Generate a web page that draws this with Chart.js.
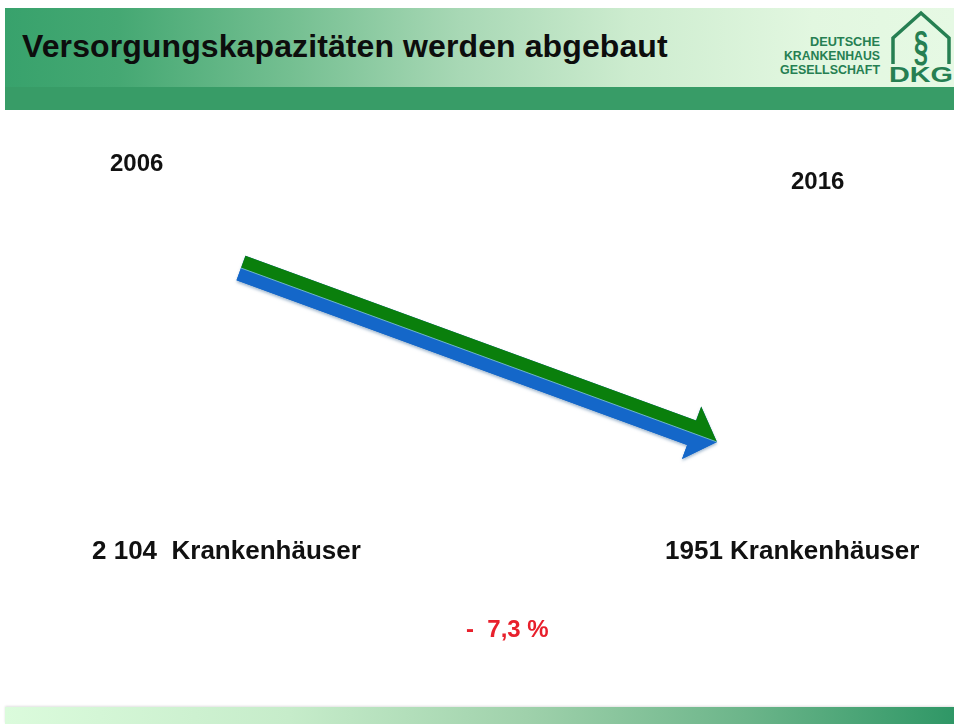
<!DOCTYPE html>
<html>
<head>
<meta charset="utf-8">
<script src="https://cdn.jsdelivr.net/npm/chart.js@4"></script>
<style>
  html,body{margin:0;padding:0;background:#fff;}
  body{width:954px;height:724px;overflow:hidden;position:relative;font-family:"Liberation Sans",Arial,sans-serif;}
  #hdr{position:absolute;left:5px;top:8px;width:949px;height:80px;
       background:linear-gradient(to right,#38a26c 0%,#45a873 12%,#74bf91 30%,#a8d8b5 48%,#cdeccf 66%,#e2f7e0 85%,#e6f9e4 100%);}
  #strip{position:absolute;left:5px;top:87px;width:949px;height:23px;background:#389c67;}
  #title{position:absolute;left:22px;top:30px;font:bold 32px "Liberation Sans",Arial,sans-serif;line-height:32px;color:#0d0d0d;white-space:nowrap;letter-spacing:0.1px;}
  #foot{position:absolute;left:5px;top:707px;width:949px;height:17px;
        background:linear-gradient(to right,#dbfbdc 0%,#c6ecca 30%,#9fd1ab 55%,#6cb58a 78%,#2f9766 100%);
        box-shadow:0 -1px 2px rgba(0,0,0,0.12);}
  #logo{position:absolute;left:0;top:0;}
  #c{position:absolute;left:0;top:0;}
</style>
</head>
<body>
<div id="hdr"></div>
<div id="strip"></div>
<div id="title">Versorgungskapazitäten werden abgebaut</div>
<svg id="logo" width="954" height="110" viewBox="0 0 954 110">
  <g fill="#267f52" font-family="Liberation Sans, Arial, sans-serif" font-weight="bold" font-size="12">
    <text x="880" y="46" text-anchor="end" textLength="70" lengthAdjust="spacingAndGlyphs">DEUTSCHE</text>
    <text x="880" y="60" text-anchor="end" textLength="96" lengthAdjust="spacingAndGlyphs">KRANKENHAUS</text>
    <text x="880" y="74" text-anchor="end" textLength="100" lengthAdjust="spacingAndGlyphs">GESELLSCHAFT</text>
  </g>
  <path d="M893,64 L893,38 L921,13 L949,38 L949,64" fill="none" stroke="#267f52" stroke-width="3.5" stroke-linejoin="miter"/>
  <text x="0" y="0" transform="translate(921,60) scale(0.62,1)" text-anchor="middle" fill="#267f52" font-family="Liberation Sans, Arial, sans-serif" font-weight="bold" font-size="42">§</text>
  <text x="921" y="82" text-anchor="middle" fill="#267f52" font-family="Liberation Sans, Arial, sans-serif" font-weight="bold" font-size="22" textLength="64" lengthAdjust="spacingAndGlyphs">DKG</text>
</svg>
<div id="foot"></div>
<canvas id="c" width="954" height="724"></canvas>
<script>
// ---- data ----
const yearLabels = ['2006', '2016'];
const years = [2006, 2016];
const hospitals = [2104, 1951];
const countLabels = ['2 104  Krankenhäuser', '1951 Krankenhäuser'];

const change = (hospitals[1] - hospitals[0]) / hospitals[0] * 100;
const changeLabel = '-  ' + Math.abs(change).toFixed(1).replace('.', ',') + ' %';

const FONT = '"Liberation Sans", Arial, sans-serif';

const arrowPlugin = {
  id: 'arrowPlugin',
  afterDatasetsDraw(chart) {
    const ctx = chart.ctx;
    const pts = chart.getDatasetMeta(0).data;
    const S = {x: pts[0].x, y: pts[0].y};
    const T = {x: pts[1].x, y: pts[1].y};
    const dx = T.x - S.x, dy = T.y - S.y;
    const L = Math.hypot(dx, dy);
    const d = {x: dx / L, y: dy / L};
    const n = {x: -d.y, y: d.x}; // points toward lower side
    const half = 13, headHalf = 28, headLen = 27;
    const B = {x: T.x - headLen * d.x, y: T.y - headLen * d.y};
    const P = (p, k) => ({x: p.x + k * n.x, y: p.y + k * n.y});
    const poly = (arr, fill) => {
      ctx.beginPath();
      ctx.moveTo(arr[0].x, arr[0].y);
      for (let i = 1; i < arr.length; i++) ctx.lineTo(arr[i].x, arr[i].y);
      ctx.closePath();
      ctx.fillStyle = fill;
      ctx.fill();
    };
    ctx.save();
    ctx.shadowColor = 'rgba(90,130,170,0.55)';
    ctx.shadowBlur = 3;
    ctx.shadowOffsetX = 0;
    ctx.shadowOffsetY = 2;
    poly([P(S, -half), P(B, -half), P(B, -headHalf), T, P(B, headHalf), P(B, half), P(S, half)], '#1467c9');
    ctx.shadowColor = 'transparent';
    poly([S, B, T, P(B, headHalf), P(B, half), P(S, half)], '#1467c9');
    poly([P(S, -half), P(B, -half), P(B, -headHalf), T, B, S], '#0a7f0c');
    ctx.beginPath();
    ctx.moveTo(S.x, S.y);
    ctx.lineTo(T.x, T.y);
    ctx.strokeStyle = 'rgba(120,190,210,0.9)';
    ctx.lineWidth = 1;
    ctx.stroke();
    ctx.restore();

    // labels
    ctx.save();
    ctx.fillStyle = '#111';
    ctx.textBaseline = 'alphabetic';
    ctx.font = 'bold 24px ' + FONT;
    ctx.textAlign = 'left';
    ctx.fillText(yearLabels[0], 110, 171);
    ctx.fillText(yearLabels[1], 791, 189);
    ctx.font = 'bold 26px ' + FONT;
    ctx.fillText(countLabels[0], 92, 559);
    ctx.fillText(countLabels[1], 665, 559);
    ctx.fillStyle = '#e8202c';
    ctx.font = 'bold 24px ' + FONT;
    ctx.fillText(changeLabel, 466, 637);
    ctx.restore();
  }
};

new Chart(document.getElementById('c'), {
  type: 'scatter',
  data: {
    datasets: [{
      data: years.map((y, i) => ({x: y, y: hospitals[i]})),
      showLine: false,
      pointRadius: 0,
      pointHoverRadius: 0
    }]
  },
  options: {
    responsive: false,
    animation: false,
    layout: {padding: 0},
    plugins: {legend: {display: false}, tooltip: {enabled: false}},
    events: [],
    scales: {
      x: {type: 'linear', display: false, min: 2000.937, max: 2020.98},
      y: {type: 'linear', display: false, min: 1703.0, max: 2339.7}
    }
  },
  plugins: [arrowPlugin]
});
</script>
</body>
</html>
